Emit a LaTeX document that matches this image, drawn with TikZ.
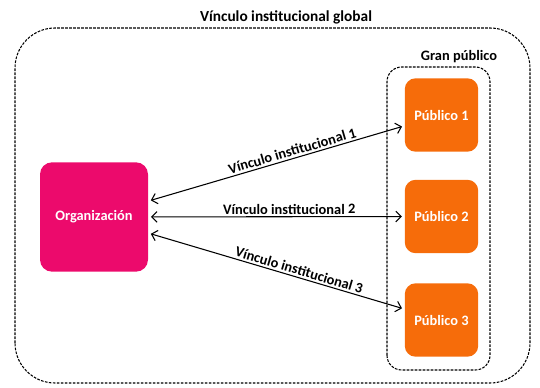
\documentclass[tikz,border=0pt]{standalone}
\usepackage{fontspec}
\setmainfont{Carlito}
\usetikzlibrary{arrows.meta}
\definecolor{orgpink}{RGB}{236,10,108}
\definecolor{puborange}{RGB}{246,108,10}
\tikzset{
    frame/.style = {draw, dashed, dash pattern=on 2pt off 1pt, line width=0.8pt},
    orgbox/.style = {fill=orgpink, text=white, rounded corners=9pt,
        minimum width=81pt, minimum height=82pt, font=\fontsize{10.8}{13}\selectfont\bfseries},
    pubbox/.style = {fill=puborange, text=white, rounded corners=8pt,
        minimum width=55pt, minimum height=55pt, font=\fontsize{10.8}{13}\selectfont\bfseries},
    link/.style = {{Straight Barb[length=4pt,width=8pt]}-{Straight Barb[length=4pt,width=8pt]}, line width=0.8pt},
    linklabel/.style = {font=\fontsize{10.8}{13}\selectfont\bfseries, sloped, above, inner sep=1.5pt}
}
\begin{document}
\begin{tikzpicture}[x=0.75pt, y=0.75pt]
    \useasboundingbox (0,0) rectangle (540,387);
    % outer and inner frames
    \draw[frame, rounded corners=30pt] (15,4) rectangle (530,359);
    \node[font=\fontsize{11.5}{14}\selectfont\bfseries] (global) at (286,370) {Vínculo institucional global};
    \draw[frame, rounded corners=11pt] (387,17) rectangle (490,320);
    \node[font=\fontsize{10.8}{13}\selectfont\bfseries] (gran) at (459,330) {Gran público};
    % boxes
    \node[orgbox] (org) at (94,170) {Organización};
    \node[pubbox] (p1) at (441.5,272) {Público 1};
    \node[pubbox] (p2) at (441.5,170.5) {Público 2};
    \node[pubbox] (p3) at (441.5,67) {Público 3};
    % links
    \draw[link, shorten <=2pt, shorten >=2pt] (org) -- (p1)
        node[linklabel, pos=0.57] {Vínculo institucional 1};
    \draw[link, shorten <=2pt, shorten >=2pt] (org) -- (p2)
        node[linklabel, pos=0.55] {Vínculo institucional 2};
    \draw[link, shorten <=2pt, shorten >=2pt] (org) -- (p3)
        node[linklabel, pos=0.58] {Vínculo institucional 3};
\end{tikzpicture}
\end{document}
